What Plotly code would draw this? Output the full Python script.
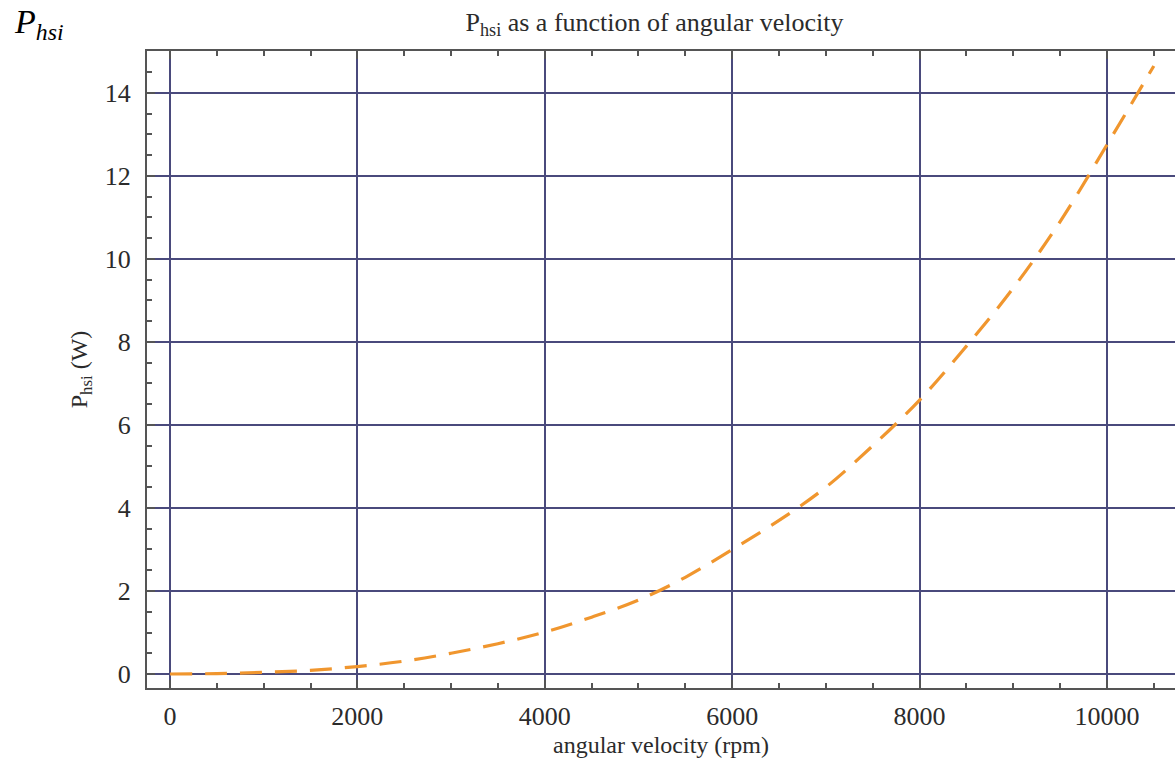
import plotly.graph_objects as go

# angular velocity (rpm) and P_hsi (W)
rpm = [0, 500, 1000, 1500, 2000, 2500, 3000, 3500, 4000, 4500, 5000,
       5500, 6000, 6500, 7000, 7500, 8000, 8500, 9000, 9500, 10000, 10500]
p_hsi = [0.0, 0.01, 0.04, 0.09, 0.18, 0.31, 0.50, 0.73, 1.01, 1.37, 1.78,
         2.33, 3.0, 3.7, 4.5, 5.5, 6.6, 7.9, 9.3, 10.9, 12.75, 14.65]

x_ticks = [0, 2000, 4000, 6000, 8000, 10000]
y_ticks = [0, 2, 4, 6, 8, 10, 12, 14]

SERIF = "Liberation Serif, Times New Roman, serif"
GRID = "#4a4a7c"
AXIS = "#555555"
TXT = "#2b2b2b"

fig = go.Figure()
fig.add_trace(go.Scatter(
    x=rpm, y=p_hsi, mode="lines",
    line=dict(color="#F0962E", width=3.2, dash="22px,13px", shape="spline"),
    showlegend=False, hoverinfo="skip"))

fig.update_layout(
    width=1175, height=765,
    margin=dict(l=147, r=0, t=51, b=77),
    paper_bgcolor="white", plot_bgcolor="white",
    font=dict(family=SERIF, size=26, color=TXT),
    title=dict(text="P<sub>hsi</sub> as a function of angular velocity",
               x=0.557, xanchor="center", y=0.972, yanchor="middle",
               font=dict(family=SERIF, size=26, color=TXT)),
    xaxis=dict(range=[-245, 10726], tickvals=x_ticks, tickformat="d",
               showgrid=True, gridcolor=GRID, gridwidth=1.5,
               showline=True, linecolor=AXIS, linewidth=2, mirror="ticks",
               ticks="inside", ticklen=8, tickcolor=AXIS, tickwidth=1.5,
               minor=dict(dtick=500, ticks="inside", ticklen=5, tickcolor=AXIS,
                          showgrid=False),
               zeroline=False, tickfont=dict(size=26), ticklabelstandoff=4,
               title=dict(text="angular velocity (rpm)", standoff=6,
                          font=dict(family=SERIF, size=24, color=TXT))),
    yaxis=dict(range=[-0.337, 15.01], tickvals=y_ticks,
               showgrid=True, gridcolor=GRID, gridwidth=1.5,
               showline=True, linecolor=AXIS, linewidth=2, mirror=False,
               ticks="inside", ticklen=8, tickcolor=AXIS, tickwidth=1.5,
               minor=dict(dtick=0.5, ticks="inside", ticklen=5, tickcolor=AXIS,
                          showgrid=False),
               zeroline=False, tickfont=dict(size=26), ticklabelstandoff=9,
               title=dict(text="P<sub>hsi</sub> (W)", standoff=10,
                          font=dict(family=SERIF, size=24, color=TXT))),
)

fig.add_annotation(text="<i>P<sub>hsi</sub></i>", xref="paper", yref="paper",
                   x=-135/1028, y=1 + 27/637, xanchor="left", yanchor="middle",
                   showarrow=False,
                   font=dict(family="Liberation Serif, serif", size=34, color="#000000"))

fig.write_html("out.html")
